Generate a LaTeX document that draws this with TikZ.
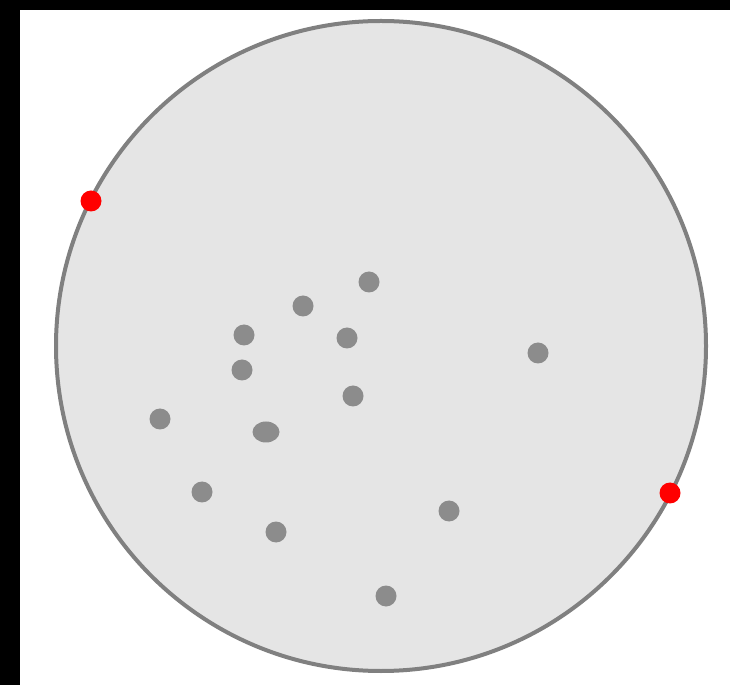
\documentclass[tikz,border=0pt]{standalone}
\definecolor{discfill}{HTML}{E5E5E5}
\definecolor{discedge}{HTML}{808080}
\definecolor{dotgray}{HTML}{8C8C8C}
\begin{document}
\begin{tikzpicture}[x=0.02cm, y=-0.02cm]
    % Frame (black band top and left)
    \fill[black] (0,0) rectangle (730,685);
    \fill[white] (20,10) rectangle (730,685);
    \useasboundingbox (0,0) rectangle (730,685);

    % Disc
    \draw[line width=0.08cm, discedge, fill=discfill] (381,346) circle (325);

    % Inner points
    \foreach \px/\py in {369/282, 303/306, 244/335, 347/338, 242/370, 538/353,
                         353/396, 160/419, 202/492, 276/532, 449/511, 386/596}
        \fill[dotgray] (\px,\py) circle (10.5);
    \fill[dotgray] (266,432) ellipse (13.5 and 10.5);

    % Points on the boundary
    \fill[red] (91,201) circle (10.5);
    \fill[red] (670,493) circle (10.5);
\end{tikzpicture}
\end{document}
